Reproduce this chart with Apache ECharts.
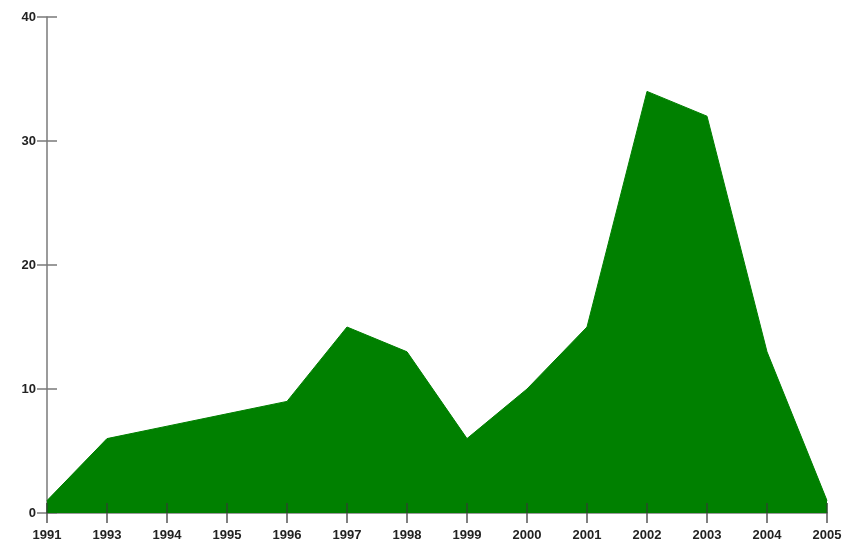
<!DOCTYPE html>
<html>
<head>
<meta charset="utf-8">
<script src="https://cdn.jsdelivr.net/npm/echarts@6/dist/echarts.min.js"></script>
<style>html,body{margin:0;padding:0;background:#fff;}#c{width:852px;height:551px;}</style>
</head>
<body>
<div id="c"></div>
<script>
var categories = ['1991','1993','1994','1995','1996','1997','1998','1999','2000','2001','2002','2003','2004','2005'];
var values = [1, 6, 7, 8, 9, 15, 13, 6, 10, 15, 34, 32, 13, 1];
var yTicks = [0, 10, 20, 30, 40];

var chart = echarts.init(document.getElementById('c'));
var font = 'Liberation Sans';
var axisGray = '#7a7a7a';
chart.setOption({
  animation: false,
  backgroundColor: '#ffffff',
  grid: { left: 47, top: 17, right: 25, bottom: 38 },
  xAxis: [{
    type: 'category', data: categories, boundaryGap: false,
    axisLine: { show: true, lineStyle: { color: axisGray, width: 1.5 } },
    axisTick: { show: true, alignWithLabel: true, length: 10, lineStyle: { color: '#555', width: 1.5 } },
    axisLabel: { color: '#222', fontSize: 13, fontWeight: 'bold', fontFamily: font, margin: 16, interval: 0 },
    splitLine: { show: false }
  }, {
    type: 'category', data: categories, boundaryGap: false, position: 'bottom',
    axisLine: { show: false },
    axisTick: { show: true, inside: true, length: 10, lineStyle: { color: '#2a4a2a', width: 1.5 } },
    axisLabel: { show: false }, splitLine: { show: false }, z: 10
  }],
  yAxis: [{
    type: 'value', min: yTicks[0], max: yTicks[yTicks.length - 1], interval: 10,
    axisLine: { show: true, lineStyle: { color: axisGray, width: 1.5 } },
    axisTick: { show: true, length: 10, lineStyle: { color: axisGray, width: 1.5 } },
    axisLabel: { color: '#222', fontSize: 13, fontWeight: 'bold', fontFamily: font, margin: 11 },
    splitLine: { show: false }
  }, {
    type: 'value', min: yTicks[0], max: yTicks[yTicks.length - 1], interval: 10, position: 'left',
    axisLine: { show: false },
    axisTick: { show: true, inside: true, length: 10, lineStyle: { color: axisGray, width: 1.5 } },
    axisLabel: { show: false }, splitLine: { show: false }
  }],
  series: [{
    type: 'line', data: values, xAxisIndex: 0, yAxisIndex: 0,
    symbol: 'none', smooth: false,
    lineStyle: { color: '#008000', width: 1 },
    areaStyle: { color: '#008000', opacity: 1 },
    z: 2
  }, {
    type: 'line', data: [], xAxisIndex: 1, yAxisIndex: 1
  }]
});
</script>
</body>
</html>
